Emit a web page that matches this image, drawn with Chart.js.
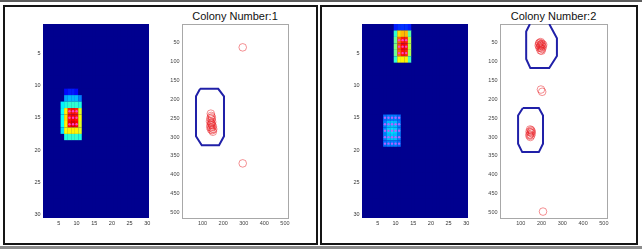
<!DOCTYPE html>
<html>
<head>
<meta charset="utf-8">
<script src="https://cdn.jsdelivr.net/npm/chart.js@4.4.1/dist/chart.umd.min.js"></script>
<style>
body { margin: 0; background: #fff; }
#page { position: relative; width: 642px; height: 251px; overflow: hidden; background: #fff; }
.frame { position: absolute; border: 2px solid #151515; box-sizing: border-box; }
.line { position: absolute; }
canvas { position: absolute; }
.title { position: absolute; font: 11px "Liberation Sans", Arial, sans-serif; color: #111; text-align: center; line-height: 13px; white-space: nowrap; }
</style>
</head>
<body>
<div id="page">
  <div class="line" style="left:0;top:0;width:642px;height:2px;background:#5c5c5c"></div>
  <div class="frame" style="left:3px;top:5px;width:315px;height:240px"></div>
  <div class="frame" style="left:320px;top:5px;width:318px;height:240px"></div>
  <div class="line" style="left:0;top:246px;width:642px;height:3px;background:#8c8c8c"></div>
  <div class="title" style="left:182px;top:10px;width:106px">Colony Number:1</div>
  <div class="title" style="left:500px;top:10px;width:107px">Colony Number:2</div>
  <canvas id="heat1"></canvas>
  <canvas id="scat1"></canvas>
  <canvas id="heat2"></canvas>
  <canvas id="scat2"></canvas>
</div>
<script>
// tick labels
var heatTicks = [5, 10, 15, 20, 25, 30];
var scatterXTicks = [100, 200, 300, 400, 500];
var scatterYTicks = [50, 100, 150, 200, 250, 300, 350, 400, 450, 500];

// non-zero cells of the 30x30 density grids: [row, col, value 0..1]
var heat1Cells = [
  [11, 7, 0.12], [11, 8, 0.14], [11, 9, 0.14], [11, 10, 0.12],
  [12, 7, 0.28], [12, 8, 0.3], [12, 9, 0.3], [12, 10, 0.3], [12, 11, 0.24],
  [13, 6, 0.36], [13, 7, 0.4], [13, 8, 0.42], [13, 9, 0.42], [13, 10, 0.42], [13, 11, 0.4],
  [14, 6, 0.38], [14, 7, 0.64], [14, 8, 0.85], [14, 9, 0.87], [14, 10, 0.85], [14, 11, 0.6],
  [15, 6, 0.38], [15, 7, 0.66], [15, 8, 0.87], [15, 9, 0.89], [15, 10, 0.87], [15, 11, 0.62],
  [16, 6, 0.38], [16, 7, 0.64], [16, 8, 0.89], [16, 9, 0.92], [16, 10, 0.89], [16, 11, 0.6],
  [17, 6, 0.34], [17, 7, 0.62], [17, 8, 0.64], [17, 9, 0.64], [17, 10, 0.64], [17, 11, 0.6],
  [18, 7, 0.4], [18, 8, 0.42], [18, 9, 0.42], [18, 10, 0.42], [18, 11, 0.4]
];
var heat2Cells = [
  [1, 10, 0.14], [1, 11, 0.16], [1, 12, 0.16], [1, 13, 0.16], [1, 14, 0.14],
  [2, 10, 0.42], [2, 11, 0.66], [2, 12, 0.7], [2, 13, 0.7], [2, 14, 0.46],
  [3, 10, 0.48], [3, 11, 0.78], [3, 12, 0.86], [3, 13, 0.85], [3, 14, 0.56],
  [4, 10, 0.5], [4, 11, 0.8], [4, 12, 0.89], [4, 13, 0.87], [4, 14, 0.56],
  [5, 10, 0.48], [5, 11, 0.78], [5, 12, 0.87], [5, 13, 0.85], [5, 14, 0.55],
  [6, 10, 0.42], [6, 11, 0.62], [6, 12, 0.64], [6, 13, 0.64], [6, 14, 0.44],
  [15, 7, 0.22], [15, 8, 0.24], [15, 9, 0.24], [15, 10, 0.24], [15, 11, 0.22],
  [16, 7, 0.24], [16, 8, 0.3], [16, 9, 0.31], [16, 10, 0.3], [16, 11, 0.24],
  [17, 7, 0.25], [17, 8, 0.32], [17, 9, 0.34], [17, 10, 0.32], [17, 11, 0.25],
  [18, 7, 0.24], [18, 8, 0.3], [18, 9, 0.31], [18, 10, 0.3], [18, 11, 0.24],
  [19, 7, 0.22], [19, 8, 0.24], [19, 9, 0.24], [19, 10, 0.24], [19, 11, 0.22]
];

// detected seeds marked on the grids: [row, col]
var heat1Marks = [[14, 8], [14, 9], [14, 10], [15, 8], [15, 9], [15, 10], [16, 8], [16, 9], [16, 10]];
var heat2MarksTop = [[3, 11], [3, 12], [3, 13], [4, 11], [4, 12], [4, 13], [5, 11], [5, 12], [5, 13]];
var heat2MarksLow = [
  [15, 7], [15, 8], [15, 9], [15, 10], [15, 11],
  [16, 7], [16, 8], [16, 9], [16, 10], [16, 11],
  [17, 7], [17, 8], [17, 9], [17, 10], [17, 11],
  [18, 7], [18, 8], [18, 9], [18, 10], [18, 11],
  [19, 7], [19, 8], [19, 9], [19, 10], [19, 11]
];

// detected colonies (pixel coords) [x, y]
var colony1Points = [
  [140, 238], [142, 244], [145, 248], [138, 250], [144, 253], [136, 258], [141, 262], [147, 260],
  [139, 268], [146, 268], [150, 272], [143, 275], [152, 279], [147, 282], [141, 280], [150, 286],
  [143, 265], [137, 274],
  [295, 62], [295, 370]
];
var colony2Points = [
  [190, 50], [196, 48], [202, 52], [186, 57], [194, 56], [200, 58], [206, 60], [190, 63],
  [197, 64], [203, 66], [195, 70], [199, 54], [192, 60], [208, 55], [188, 52], [200, 71],
  [197, 174], [203, 180],
  [145, 280], [150, 282], [142, 286], [148, 288], [153, 290], [144, 293], [150, 296], [146, 300],
  [152, 285], [141, 296],
  [207, 498]
];

// colony outlines [x, y]
var colony1Outline = [[88, 172], [176, 172], [204, 192], [204, 298], [180, 322], [96, 322], [68, 298], [68, 192], [88, 172]];
var colony2OutlineTop = [[144, 0], [126, 20], [126, 93], [146, 117], [237, 117], [274, 85], [274, 38], [237, 0]];
var colony2OutlineLow = [[110, 223], [87, 243], [87, 318], [107, 340], [187, 340], [207, 318], [207, 243], [187, 223], [110, 223]];

var tickFont = { family: 'Liberation Sans', size: 5.5 };

function jet(v) {
  var t = 0.0156 + v * 0.9688;
  function ch(k) { return Math.round(255 * Math.max(0, Math.min(1, 1.5 - Math.abs(4 * t - k)))); }
  return 'rgb(' + ch(3) + ',' + ch(2) + ',' + ch(1) + ')';
}

function place(id, area) {
  var c = document.getElementById(id);
  c.width = area[2] - area[0] + 36;
  c.height = area[3] - area[1] + 24;
  c.style.left = (area[0] - 30) + 'px';
  c.style.top = (area[1] - 6) + 'px';
  return c;
}

function setTicks(list) {
  return function (s) { s.ticks = list.map(function (v) { return { value: v }; }); };
}

var plotBg = {
  id: 'plotBg',
  beforeDraw: function (chart, args, opts) {
    if (!opts.color) return;
    var a = chart.chartArea, ctx = chart.ctx;
    ctx.save();
    ctx.fillStyle = opts.color;
    ctx.fillRect(a.left, a.top, a.right - a.left, a.bottom - a.top);
    ctx.restore();
  }
};

function heatChart(id, area, cells, markSets) {
  var grid = [];
  for (var r = 1; r <= 30; r++) {
    for (var c = 1; c <= 30; c++) {
      var v = 0;
      cells.forEach(function (e) { if (e[0] === r && e[1] === c) v = e[2]; });
      grid.push({ x: c, y: [r - 0.5, r + 0.5], v: v });
    }
  }
  var sets = [{
    type: 'bar',
    data: grid,
    backgroundColor: function (ctx) { return ctx.raw ? jet(ctx.raw.v) : '#00008f'; },
    borderWidth: 0,
    barPercentage: 1.04,
    categoryPercentage: 1,
    order: 2
  }];
  markSets.forEach(function (m) {
    sets.push({
      type: 'scatter',
      data: m.cells.map(function (e) { return { x: e[1], y: e[0] }; }),
      pointRadius: 1.2,
      pointStyle: 'circle',
      backgroundColor: m.color,
      borderWidth: 0,
      order: 1
    });
  });
  new Chart(place(id, area), {
    type: 'bar',
    data: { datasets: sets },
    plugins: [plotBg],
    options: {
      responsive: false,
      animation: false,
      events: [],
      layout: { padding: { left: 0, top: 6, right: 6, bottom: 0 } },
      plugins: { legend: { display: false }, tooltip: { enabled: false }, plotBg: { color: jet(0) } },
      scales: {
        x: {
          type: 'linear', min: 0.5, max: 30.5, offset: false,
          grid: { display: false, drawTicks: false }, border: { display: false },
          ticks: { font: tickFont, color: '#333', padding: 2, maxRotation: 0, autoSkip: false },
          afterBuildTicks: setTicks(heatTicks),
          afterFit: function (s) { s.height = 18; }
        },
        y: {
          type: 'linear', reverse: true, min: 0.5, max: 30.5,
          grid: { display: false, drawTicks: false }, border: { display: false },
          ticks: { font: tickFont, color: '#333', padding: 2.5, autoSkip: false },
          afterBuildTicks: setTicks(heatTicks),
          afterFit: function (s) { s.width = 30; }
        }
      }
    }
  });
}

function scatterChart(id, area, points, outlines) {
  var sets = [{
    data: points.map(function (p) { return { x: p[0], y: p[1] }; }),
    pointRadius: 3.8,
    pointStyle: 'circle',
    backgroundColor: 'rgba(0,0,0,0)',
    borderColor: 'rgba(232,30,36,0.7)',
    borderWidth: 0.7
  }];
  outlines.forEach(function (o) {
    sets.push({
      data: o.map(function (p) { return { x: p[0], y: p[1] }; }),
      showLine: true,
      pointRadius: 0,
      borderColor: '#2020a8',
      borderWidth: 2,
      fill: false,
      tension: 0
    });
  });
  var axisBorder = { display: true, color: '#a8a8a8', width: 1 };
  new Chart(place(id, area), {
    type: 'scatter',
    data: { datasets: sets },
    options: {
      responsive: false,
      animation: false,
      events: [],
      layout: { padding: { left: 0, top: 6, right: 6, bottom: 0 } },
      plugins: { legend: { display: false }, tooltip: { enabled: false } },
      scales: {
        x: {
          type: 'linear', min: 0, max: 515,
          grid: { display: false, drawTicks: false }, border: axisBorder,
          ticks: { font: tickFont, color: '#444', padding: 2, maxRotation: 0, autoSkip: false },
          afterBuildTicks: setTicks(scatterXTicks),
          afterFit: function (s) { s.height = 18; }
        },
        y: {
          type: 'linear', reverse: true, min: 0, max: 515,
          grid: { display: false, drawTicks: false }, border: axisBorder,
          ticks: { font: tickFont, color: '#444', padding: 2.5, autoSkip: false },
          afterBuildTicks: setTicks(scatterYTicks),
          afterFit: function (s) { s.width = 30; }
        },
        x2: {
          type: 'linear', position: 'top', min: 0, max: 515,
          grid: { display: false, drawTicks: false }, border: axisBorder,
          ticks: { display: false },
          afterFit: function (s) { s.height = 0; }
        },
        y2: {
          type: 'linear', position: 'right', min: 0, max: 515,
          grid: { display: false, drawTicks: false }, border: axisBorder,
          ticks: { display: false },
          afterFit: function (s) { s.width = 0; }
        }
      }
    }
  });
}

heatChart('heat1', [43, 24, 149, 218], heat1Cells, [{ cells: heat1Marks, color: '#ff40c8' }]);
scatterChart('scat1', [182, 24, 288, 218], colony1Points, [colony1Outline]);
heatChart('heat2', [362, 24, 468, 218], heat2Cells, [
  { cells: heat2MarksTop, color: '#ff40c8' },
  { cells: heat2MarksLow, color: '#b460ff' }
]);
scatterChart('scat2', [500, 24, 607, 218], colony2Points, [colony2OutlineTop, colony2OutlineLow]);
</script>
</body>
</html>
